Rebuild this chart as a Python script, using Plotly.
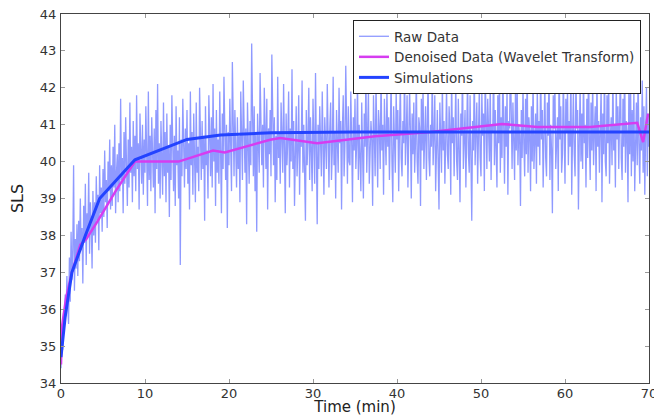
import plotly.graph_objects as go

# ---- data ----
raw_step_min = 0.1  # sampling interval of the raw series (min)
raw_sls = [
    34.4, 35.3, 34.9, 35.9, 35.5, 36.4, 35.8, 36.9, 36.1, 35.6,
    37.4, 36.2, 38.1, 36.8, 37.6, 39.9, 36.5, 37.9, 37.1, 38.3,
    36.9, 38.4, 37.3, 39.0, 37.6, 38.2, 36.7, 38.8, 37.8, 39.4,
    37.2, 38.6, 38.0, 39.7, 37.5, 38.9, 38.3, 37.1, 39.2, 38.0,
    38.9, 37.8, 39.6, 38.4, 39.1, 37.6, 39.9, 38.6, 39.3, 38.1,
    39.8, 38.5, 40.3, 38.9, 39.5, 38.2, 40.0, 39.2, 40.6, 38.7,
    39.9, 38.8, 40.4, 39.3, 41.0, 38.6, 39.7, 40.2, 38.9, 40.5,
    39.2, 41.7, 39.5, 40.1, 38.6, 40.8, 39.4, 41.2, 39.9, 38.8,
    40.6, 39.3, 41.6, 39.7, 40.4, 38.9, 41.1, 39.6, 40.7, 39.2,
    41.8, 39.8, 40.5, 38.7, 41.3, 40.0, 39.4, 41.0, 39.1, 40.6,
    39.7, 41.5, 40.1, 38.8, 41.9, 39.5, 40.7, 39.2, 41.2, 40.0,
    39.3, 40.9, 38.6, 41.4, 39.8, 42.1, 39.4, 40.5, 39.0, 41.1,
    40.2, 39.1, 41.6, 39.6, 40.8, 38.9, 41.3, 39.7, 40.4, 38.5,
    41.0, 39.5, 41.8, 40.1, 39.2, 40.7, 38.8, 41.5, 39.9, 40.3,
    39.0, 41.2, 37.2, 40.6, 39.6, 41.7, 40.0, 39.3, 40.9, 39.8,
    41.4, 39.4, 40.5, 38.7, 41.9, 39.9, 40.8, 39.1, 41.3, 40.2,
    38.9, 41.6, 39.7, 40.4, 39.2, 42.0, 40.1, 39.5, 41.1, 39.8,
    40.7, 38.4, 41.5, 39.9, 40.3, 39.0, 41.8, 40.2, 39.6, 41.2,
    39.3, 42.1, 40.0, 40.9, 38.8, 41.4, 39.7, 40.6, 39.4, 41.9,
    40.4, 38.6, 41.3, 39.8, 42.3, 40.1, 39.5, 41.0, 38.2, 40.8,
    39.9, 41.7, 40.3, 39.2, 42.7, 40.0, 39.6, 41.4, 40.5, 39.3,
    41.2, 39.8, 40.7, 38.9, 41.9, 40.2, 39.5, 42.2, 40.6, 39.7,
    40.9, 38.3, 41.6, 40.1, 39.4, 41.1, 39.9, 43.2, 40.4, 39.6,
    41.5, 39.2, 40.8, 38.1, 41.3, 40.0, 39.7, 42.4, 40.5, 39.9,
    41.0, 39.3, 42.0, 40.3, 39.8, 41.7, 38.7, 40.9, 40.2, 41.4,
    39.6, 42.9, 40.4, 39.9, 41.2, 38.9, 40.7, 39.5, 42.3, 40.1,
    40.8, 39.4, 41.6, 40.2, 39.7, 42.1, 40.5, 38.6, 41.3, 39.9,
    40.6, 41.9, 39.3, 40.9, 40.0, 42.5, 39.8, 41.1, 38.8, 40.7,
    41.5, 39.6, 40.3, 41.8, 39.1, 40.8, 40.4, 42.2, 39.7, 41.0,
    40.1, 38.4, 41.4, 39.9, 40.6, 42.0, 39.5, 41.2, 40.3, 39.2,
    41.7, 40.0, 39.4, 42.4, 40.6, 38.3, 41.0, 39.8, 41.5, 40.2,
    39.6, 41.9, 40.4, 39.1, 41.2, 40.7, 39.8, 42.1, 40.0, 39.3,
    40.9, 41.6, 39.5, 40.3, 42.3, 39.9, 40.8, 39.0, 41.4, 40.1,
    39.7, 42.0, 40.5, 41.1, 38.7, 40.9, 41.8, 39.6, 40.4, 42.6,
    40.2, 39.4, 41.5, 40.0, 39.9, 41.9, 40.6, 38.9, 41.2, 40.3,
    41.7, 39.8, 40.5, 42.2, 39.5, 41.0, 40.1, 39.2, 41.6, 40.7,
    39.0, 41.3, 40.4, 42.4, 39.7, 40.8, 41.9, 39.4, 40.2, 41.1,
    40.6, 38.8, 41.8, 40.0, 39.6, 42.1, 40.5, 39.3, 41.4, 40.9,
    39.8, 42.5, 40.3, 41.0, 39.1, 41.7, 40.7, 39.9, 42.0, 40.4,
    41.2, 39.5, 40.8, 42.3, 40.0, 38.9, 41.5, 40.2, 39.7, 41.9,
    40.6, 41.4, 39.2, 40.9, 42.2, 40.1, 39.6, 41.1, 40.5, 42.6,
    39.9, 40.7, 41.8, 39.3, 40.4, 42.0, 40.8, 39.0, 41.3, 40.2,
    41.6, 39.7, 40.5, 42.4, 40.0, 39.4, 41.2, 40.9, 38.8, 41.7,
    40.3, 42.1, 39.8, 40.6, 41.5, 39.5, 40.9, 42.3, 40.1, 39.6,
    41.0, 40.4, 42.5, 39.9, 40.7, 41.8, 39.2, 40.5, 41.4, 40.0,
    38.7, 41.6, 40.8, 39.7, 42.2, 40.3, 41.1, 39.4, 40.6, 42.0,
    40.2, 39.8, 41.5, 40.9, 39.1, 42.4, 40.5, 41.2, 39.6, 40.8,
    42.1, 40.0, 39.5, 41.7, 40.4, 38.9, 41.3, 40.7, 42.6, 39.8,
    40.6, 41.4, 39.3, 40.9, 42.3, 40.2, 39.7, 41.8, 40.5, 38.4,
    41.1, 40.3, 42.7, 39.9, 40.8, 41.6, 39.4, 40.4, 42.0, 40.1,
    39.6, 41.9, 40.7, 41.3, 39.2, 42.5, 40.6, 39.8, 41.7, 40.9,
    40.0, 42.2, 39.5, 41.0, 40.8, 42.8, 39.9, 41.4, 40.3, 39.3,
    41.8, 40.5, 42.4, 39.7, 41.2, 40.1, 42.6, 40.7, 39.4, 41.5,
    40.4, 42.0, 39.1, 41.1, 40.9, 42.9, 40.2, 39.8, 41.6, 40.6,
    39.5, 41.9, 40.3, 42.3, 39.9, 41.0, 40.7, 38.8, 41.4, 40.1,
    42.1, 40.5, 39.6, 41.7, 40.2, 42.6, 39.7, 41.2, 40.8, 39.2,
    41.5, 40.0, 42.4, 39.8, 40.9, 41.3, 39.4, 42.0, 40.4, 41.1,
    39.9, 42.7, 40.6, 41.4, 39.3, 40.8, 42.2, 40.1, 39.6, 41.6,
    40.7, 42.5, 39.5, 41.0, 40.3, 38.6, 41.8, 40.9, 42.1, 39.8,
    40.5, 41.2, 39.2, 42.9, 40.6, 41.5, 39.7, 40.2, 42.4, 40.0,
    39.4, 41.7, 40.8, 42.0, 39.9, 41.1, 40.4, 42.6, 39.1, 40.7,
    41.9, 40.2, 39.6, 42.3, 40.9, 41.4, 38.7, 40.6, 42.1, 40.0,
    41.3, 39.8, 42.5, 40.5, 41.0, 39.3, 41.7, 40.1, 42.8, 40.6,
    39.5, 41.6, 40.3, 42.2, 39.9, 40.8, 41.5, 39.2, 42.4, 40.4,
    41.1, 39.7, 40.9, 42.0, 38.9, 41.3, 40.2, 42.7, 40.0, 39.6,
    41.8, 40.5, 42.3, 39.4, 40.7, 41.2, 39.9, 42.5, 40.3, 41.0,
    39.3, 42.1, 40.6, 41.5, 39.8, 40.9, 42.6, 40.1, 39.5, 41.7,
    40.4, 42.9, 39.7, 41.1, 40.8, 38.9, 41.9, 40.2, 42.3, 39.6,
    41.4, 40.0, 42.0, 39.2, 40.7, 41.6, 39.9, 42.4, 40.5, 39.4,
    41.2, 40.3, 42.2, 39.7, 41.5, 39.1, 40.8, 42.0, 39.6, 41.3, 40.4,
]
raw_time = [i * raw_step_min for i in range(len(raw_sls))]

denoised_time = [0.0, 0.1, 0.6, 1.3, 2.3, 3.0, 4.4, 6.5, 8.8, 14.0, 18.1, 19.5,
                 24.9, 26.1, 30.5, 37.4, 44.0, 49.9, 52.5, 56.7, 63.0, 68.6, 69.3, 69.9]
denoised_sls = [34.5, 35.5, 36.3, 37.0, 37.75, 37.9, 38.4, 39.2, 40.0, 40.0, 40.3, 40.25,
                40.59, 40.64, 40.5, 40.69, 40.8, 40.94, 41.02, 40.94, 40.94, 41.05, 40.53, 41.3]

sim_time = [0.0, 0.5, 1.3, 2.9, 4.6, 8.8, 15.0, 19.0, 25.0, 35.0, 70.0]
sim_sls = [34.7, 35.8, 37.0, 38.0, 39.0, 40.05, 40.6, 40.72, 40.78, 40.8, 40.8]

x_ticks = [0, 10, 20, 30, 40, 50, 60, 70]
y_ticks = [34, 35, 36, 37, 38, 39, 40, 41, 42, 43, 44]

FONT = "DejaVu Sans, Liberation Sans, sans-serif"

fig = go.Figure()
fig.add_trace(go.Scatter(
    x=raw_time, y=raw_sls, mode="lines", name="Raw Data",
    line=dict(color="rgba(100,115,255,0.72)", width=1.3),
))
fig.add_trace(go.Scatter(
    x=denoised_time, y=denoised_sls, mode="lines",
    name="Denoised Data (Wavelet Transform)",
    line=dict(color="#d63cf0", width=2.5),
))
fig.add_trace(go.Scatter(
    x=sim_time, y=sim_sls, mode="lines", name="Simulations",
    line=dict(color="#2343ff", width=3),
))

axis_common = dict(
    showgrid=False, zeroline=False, showline=True, linecolor="#444", linewidth=1.2,
    mirror="ticks", ticks="inside", ticklen=4, tickcolor="#999", tickwidth=1,
    tickfont=dict(family=FONT, size=13, color="#333"),
    automargin=False, ticklabeloverflow="allow",
)

fig.update_layout(
    width=654, height=416,
    paper_bgcolor="white", plot_bgcolor="white",
    margin=dict(l=61, r=5, t=14, b=33),
    font=dict(family=FONT, color="#333"),
    showlegend=True,
    legend=dict(
        x=0.9864, y=0.9837, xanchor="right", yanchor="top",
        bgcolor="white", bordercolor="#222", borderwidth=1,
        font=dict(family=FONT, size=13.5, color="#333"),
        tracegroupgap=0,
    ),
    xaxis=dict(
        range=[0, 70], tickvals=x_ticks, ticklabelstandoff=-2,
        title=dict(text="Time (min)", font=dict(family=FONT, size=15, color="#222"), standoff=4),
        **axis_common,
    ),
    yaxis=dict(
        range=[34, 44], tickvals=y_ticks, ticklabelstandoff=1,
        title=dict(text="SLS", font=dict(family=FONT, size=16, color="#222"), standoff=12),
        **axis_common,
    ),
)

fig.write_html(
    "out.html",
    config={"displayModeBar": False},
    post_script="document.body.style.margin='0';",
)
